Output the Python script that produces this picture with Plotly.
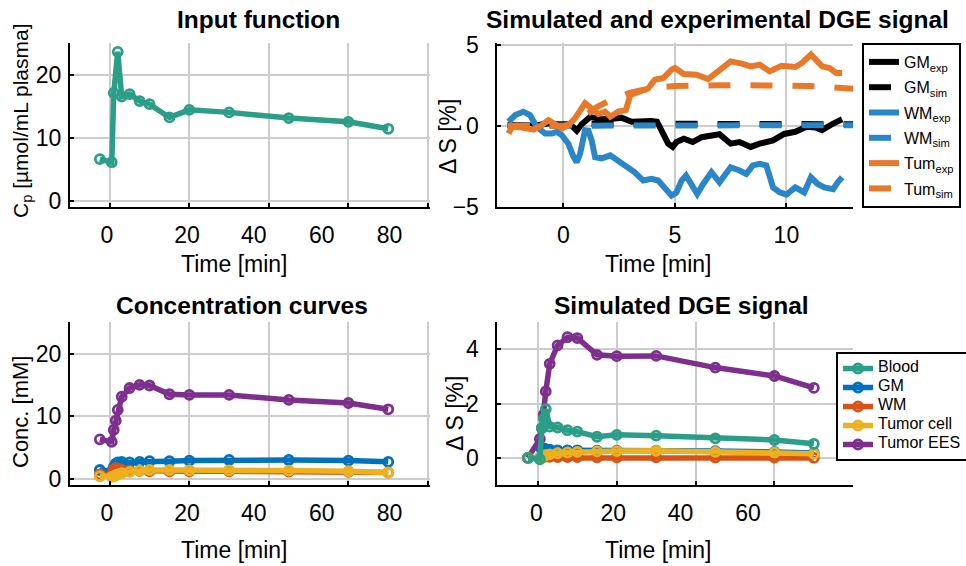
import plotly.graph_objects as go

W, H = 966, 566

# ---------------- data ----------------
# Input function: arterial plasma concentration
t_cp = [-2.5, 0.5, 1.0, 2.0, 3.0, 5.0, 7.5, 10.0, 15.0, 20.0, 30.0, 45.0, 60.0, 70.0]
cp = [6.6, 6.1, 17.1, 23.6, 16.5, 16.9, 15.8, 15.3, 13.2, 14.4, 14.0, 13.1, 12.5, 11.4]

# Experimental DGE signal (irregular sampling)
t_gm_exp = [-2.5, -2.0, -1.5, -1.1, -0.67, -0.3, 0.0, 0.3, 0.6, 0.82, 1.2, 1.7, 2.3, 2.6,
            3.06, 3.5, 3.95, 4.2, 4.4, 4.7, 4.9, 5.07, 5.4, 5.8, 6.2, 7.0, 7.5, 7.9, 8.4,
            8.8, 9.4, 9.9, 10.4, 10.9, 11.3, 11.6, 12.1, 12.5]
gm_exp = [0.05, 0.0, 0.0, 0.05, 0.15, 0.1, 0.1, 0.1, -0.3, 0.1, 0.55, 0.4, 0.45, 0.5,
          0.25, 0.3, 0.3, 0.25, -0.37, -1.1, -1.3, -1.0, -0.8, -1.0, -0.7, -0.52, -1.1, -1.0, -1.3,
          -1.1, -0.9, -0.5, -0.37, -0.06, -0.1, -0.27, 0.14, 0.4]

t_wm_exp = [-2.46, -2.16, -1.8, -1.5, -1.2, -0.82, -0.52, -0.3, -0.07, 0.22, 0.45, 0.6, 0.75,
            0.97, 1.12, 1.27, 1.42, 1.72, 2.1, 2.46, 2.84, 3.2, 3.58, 3.95, 4.25, 4.55, 4.85,
            5.07, 5.3, 5.5, 5.8, 6.0, 6.27, 6.64, 7.0, 7.5, 7.9, 8.2, 8.5, 8.8, 9.1, 9.4, 9.7,
            10.0, 10.4, 10.8, 11.1, 11.4, 11.7, 12.1, 12.3, 12.5]
wm_exp = [0.25, 0.66, 0.87, 0.66, -0.06, -0.48, -0.48, -0.37, -0.58, -1.1, -1.9, -2.24, -1.72,
          -0.27, -0.3, -0.9, -1.93, -2.0, -1.82, -2.13, -2.55, -2.86, -3.37, -3.27, -3.37, -3.9, -4.3,
          -4.1, -3.37, -3.06, -3.7, -4.2, -3.58, -2.86, -3.48, -2.55, -2.75, -2.96, -2.44, -2.34, -2.44,
          -3.79, -4.1, -4.24, -3.79, -4.1, -3.17, -3.58, -3.79, -3.9, -3.48, -3.17]

t_tum_exp = [-2.46, -2.3, -1.87, -1.34, -0.97, -0.67, -0.37, -0.07, 0.22, 0.52, 0.97, 1.27, 1.57,
             1.87, 2.1, 2.46, 2.8, 3.0, 3.36, 3.8, 4.1, 4.48, 4.85, 5.0, 5.4, 5.97, 6.49, 6.9, 7.5,
             8.0, 8.4, 8.8, 9.25, 9.78, 10.4, 10.7, 11.1, 11.6, 11.94, 12.24, 12.5]
tum_exp = [-0.48, -0.06, -0.1, -0.23, 0.04, 0.35, 0.1, -0.17, 0.04, 0.46, 1.39, 1.08, 0.72,
           0.87, 0.56, 0.87, 0.97, 1.9, 2.1, 2.3, 2.84, 2.94, 3.46, 3.56, 3.19, 3.15, 2.88, 3.35, 3.97,
           3.83, 3.66, 3.77, 3.35, 3.7, 3.62, 3.87, 4.39, 3.66, 3.56, 3.25, 3.25]

# Simulated DGE signal on the model grid
t_sim = [-2.5, -2.0, -1.5, -1.0, -0.5, 0.0, 0.5, 1.0, 1.5, 2.0, 2.5, 3.0, 3.5, 4.0, 4.5, 5.0,
         6.0, 7.0, 8.0, 9.0, 10.0, 11.0, 12.0, 13.0]
gm_sim = [0.0, 0.0, 0.0, 0.0, 0.0, 0.0, 0.05, 0.12, 0.13, 0.13, 0.13, 0.13, 0.12, 0.12, 0.12, 0.12,
          0.12, 0.12, 0.12, 0.11, 0.11, 0.11, 0.1, 0.1]
wm_sim = [0.0, 0.0, 0.0, 0.0, 0.0, 0.0, 0.02, 0.04, 0.04, 0.04, 0.04, 0.04, 0.04, 0.04, 0.04, 0.04,
          0.04, 0.04, 0.04, 0.04, 0.04, 0.04, 0.04, 0.04]
tum_sim = [0.0, 0.0, 0.0, 0.0, 0.0, 0.0, 0.15, 0.7, 1.15, 1.5, 1.8, 2.05, 2.2, 2.32, 2.4, 2.45,
           2.5, 2.5, 2.5, 2.5, 2.47, 2.45, 2.38, 2.28]

# Compartment model output
t_model = [-2.5, 0.5, 1.0, 1.5, 2.0, 3.0, 5.0, 7.5, 10.0, 15.0, 20.0, 30.0, 45.0, 60.0, 70.0]
conc_gm = [1.4, 1.2, 1.9, 2.4, 2.6, 2.7, 2.6, 2.7, 2.8, 2.8, 2.9, 3.0, 3.0, 2.9, 2.7]
conc_wm = [0.7, 0.6, 1.5, 1.7, 1.6, 1.4, 1.3, 1.25, 1.2, 1.2, 1.2, 1.2, 1.15, 1.1, 1.0]
conc_tc = [0.4, 0.3, 0.4, 0.55, 0.7, 0.9, 1.1, 1.3, 1.4, 1.4, 1.35, 1.35, 1.3, 1.2, 1.0]
conc_ees = [6.3, 5.9, 7.8, 9.3, 11.0, 13.1, 14.5, 15.0, 14.9, 13.5, 13.4, 13.4, 12.6, 12.1, 11.1]

ds_blood = [0.0, -0.05, 1.1, 1.45, 1.8, 1.15, 1.12, 1.02, 0.97, 0.78, 0.85, 0.82, 0.72, 0.66, 0.52]
ds_gm = [0.0, 0.0, 0.3, 0.35, 0.32, 0.3, 0.28, 0.28, 0.28, 0.27, 0.27, 0.27, 0.25, 0.22, 0.18]
ds_wm = [0.0, 0.0, 0.04, 0.05, 0.05, 0.04, 0.03, 0.03, 0.03, 0.02, 0.02, 0.02, 0.01, 0.01, 0.0]
ds_tc = [0.0, 0.0, 0.05, 0.08, 0.1, 0.13, 0.17, 0.2, 0.22, 0.24, 0.25, 0.26, 0.22, 0.2, 0.15]
ds_ees = [0.0, 0.7, 1.1, 1.6, 2.45, 3.47, 4.15, 4.45, 4.42, 3.8, 3.75, 3.76, 3.33, 3.02, 2.58]

# time-axis labels (long axes) and where they sit
time_labels = ["0", "20", "40", "60", "80"]
time_label_pos = [-0.7, 19.4, 36.2, 53.3, 70.3]
time_labels_br = ["0", "20", "40", "60"]
time_label_pos_br = [-0.4, 19.1, 36.2, 53.3]

# ---------------- style ----------------
FONT = "Liberation Sans, Arial, Helvetica, sans-serif"
C_BLOOD = "#2A9E86"
C_GM = "#0072BD"
C_WM = "#D95319"
C_TC = "#EDB120"
C_EES = "#7E2F8E"
C_GM_EXP = "#000000"
C_WM_EXP = "#2B86C8"
C_TUM_EXP = "#E8792B"
GRID = "#cccccc"
LW = 5.5
LW_SIG = 6
DASH = "22px,20px"


def px_x(p):
    return p / W


def px_y(p):
    return 1 - p / H


def marker_trace(x, y, color, xa, ya, name=None, legend=None, rank=None):
    return go.Scatter(
        x=x, y=y, mode="lines+markers", xaxis=xa, yaxis=ya,
        line=dict(color=color, width=LW),
        marker=dict(symbol="circle-open", size=9, color=color, line=dict(width=2.8, color=color)),
        name=name, showlegend=name is not None, legend=legend,
        legendrank=rank if rank is not None else 1000,
    )


fig = go.Figure()

# Input function
fig.add_trace(marker_trace(t_cp, cp, C_BLOOD, "x", "y"))

# Experimental vs simulated DGE signal
exp_sim = [
    ("GM<sub>exp</sub>", t_gm_exp, gm_exp, C_GM_EXP, "solid"),
    ("GM<sub>sim</sub>", t_sim, gm_sim, C_GM_EXP, DASH),
    ("WM<sub>exp</sub>", t_wm_exp, wm_exp, C_WM_EXP, "solid"),
    ("WM<sub>sim</sub>", t_sim, wm_sim, C_WM_EXP, DASH),
    ("Tum<sub>exp</sub>", t_tum_exp, tum_exp, C_TUM_EXP, "solid"),
    ("Tum<sub>sim</sub>", t_sim, tum_sim, C_TUM_EXP, DASH),
]
for i, (nm, tx, vy, col, dash) in enumerate(exp_sim):
    fig.add_trace(go.Scatter(
        x=tx, y=vy, mode="lines", xaxis="x2", yaxis="y2", name=nm,
        line=dict(color=col, width=LW_SIG, dash=dash),
        legend="legend", legendgroup="g%d" % i,
    ))

# Concentration curves
for vals, col in [(conc_gm, C_GM), (conc_wm, C_WM), (conc_tc, C_TC), (conc_ees, C_EES)]:
    fig.add_trace(marker_trace(t_model, vals, col, "x3", "y3"))


def leg_name(s):
    return '<span style="font-size:16px">%s</span>' % s


# Simulated DGE signal per compartment
br = [
    ("Tumor EES", ds_ees, C_EES, 5),
    ("GM", ds_gm, C_GM, 2),
    ("WM", ds_wm, C_WM, 3),
    ("Tumor cell", ds_tc, C_TC, 4),
    ("Blood", ds_blood, C_BLOOD, 1),
]
for nm, vals, col, rk in br:
    fig.add_trace(marker_trace(t_model, vals, col, "x4", "y4", name=leg_name(nm),
                               legend="legend2", rank=rk))

# ---------------- axes ----------------
tick_font = dict(family=FONT, size=23, color="black")


def yax(domain, rng, vals, anchor, standoff=2):
    return dict(
        domain=domain, range=rng, anchor=anchor, tickvals=vals, automargin=False,
        showline=True, linecolor="black", linewidth=2,
        ticks="inside", ticklen=4, tickwidth=2, tickcolor="black",
        showgrid=True, gridcolor=GRID, gridwidth=2, zeroline=False,
        tickfont=tick_font, ticklabelstandoff=standoff,
    )


def xax_long(domain, rng, anchor, grid_vals, lab_pos, labs):
    return dict(
        domain=domain, range=rng, anchor=anchor, automargin=False,
        tickmode="array", tickvals=lab_pos, ticktext=labs, ticks="",
        showgrid=False, zeroline=False,
        minor=dict(tickmode="array", tickvals=grid_vals, ticks="inside", ticklen=4,
                   tickwidth=2, tickcolor="black", showgrid=True, gridcolor=GRID, gridwidth=2),
        showline=True, linecolor="black", linewidth=2,
        tickfont=tick_font, ticklabelstandoff=6,
    )


dom_x_left = [px_x(70), px_x(430)]
dom_x_right = [px_x(496.5), px_x(853.3)]
dom_y_top = [px_y(207), px_y(43)]
dom_y_bot = [px_y(485), px_y(322.3)]

fig.update_layout(
    width=W, height=H,
    margin=dict(l=0, r=0, t=0, b=0, autoexpand=False),
    paper_bgcolor="white", plot_bgcolor="white",
    font=dict(family=FONT, color="black"),
    xaxis=xax_long(dom_x_left, [-10, 80.5], "y", [0, 20, 40, 60, 80], time_label_pos, time_labels),
    yaxis=yax(dom_y_top, [-1, 25], [0, 10, 20], "x"),
    xaxis2=dict(
        domain=dom_x_right, range=[-3, 13], anchor="y2", tickvals=[0, 5, 10], automargin=False,
        showline=True, linecolor="black", linewidth=2,
        ticks="inside", ticklen=4, tickwidth=2, tickcolor="black",
        showgrid=True, gridcolor=GRID, gridwidth=2, zeroline=False,
        tickfont=tick_font, ticklabelstandoff=6,
    ),
    yaxis2=yax(dom_y_top, [-5, 5.1], [-5, 0, 5], "x2", standoff=11),
    xaxis3=xax_long(dom_x_left, [-10, 80.5], "y3", [0, 20, 40, 60, 80], time_label_pos, time_labels),
    yaxis3=yax(dom_y_bot, [-1, 25], [0, 10, 20], "x3"),
    xaxis4=xax_long(dom_x_right, [-10.5, 80], "y4", [0, 20, 40, 60], time_label_pos_br, time_labels_br),
    yaxis4=yax(dom_y_bot, [-1, 5], [0, 2, 4], "x4", standoff=11),
    legend=dict(
        x=px_x(862), y=px_y(43), xanchor="left", yanchor="top",
        bordercolor="black", borderwidth=2, bgcolor="white",
        font=dict(family=FONT, size=16, color="black"),
        tracegroupgap=1.5, itemwidth=30,
    ),
    legend2=dict(
        x=px_x(836), y=px_y(352), xanchor="left", yanchor="top",
        bordercolor="black", borderwidth=2, bgcolor="white",
        font=dict(family=FONT, size=10, color="black"),
        itemwidth=30, traceorder="normal",
    ),
    showlegend=True,
)

# ---------------- titles and axis labels ----------------
def text_at(x, y, s, size, angle=0, bold=False):
    fig.add_annotation(
        x=px_x(x), y=px_y(y), xref="paper", yref="paper",
        text="<b>%s</b>" % s if bold else s, showarrow=False,
        xanchor="center", yanchor="middle", textangle=angle,
        font=dict(family=FONT, size=size, color="black"),
    )


text_at(258, 19, "Input function", 24.5, bold=True)
text_at(717, 19, "Simulated and experimental DGE signal", 24.5, bold=True)
text_at(242, 305, "Concentration curves", 24.5, bold=True)
text_at(681, 305, "Simulated DGE signal", 24.5, bold=True)

for xc, yc in [(234, 264), (658, 264), (234, 550), (658, 550)]:
    text_at(xc, yc, "Time [min]", 23)

text_at(22, 121, "C<sub>p</sub> [µmol/mL plasma]", 21, angle=-90)
text_at(448, 137, "Δ S [%]", 23, angle=-90)
text_at(20, 412, "Conc. [mM]", 22, angle=-90)
text_at(455, 414, "Δ S [%]", 23, angle=-90)

fig.write_html("out.html")
